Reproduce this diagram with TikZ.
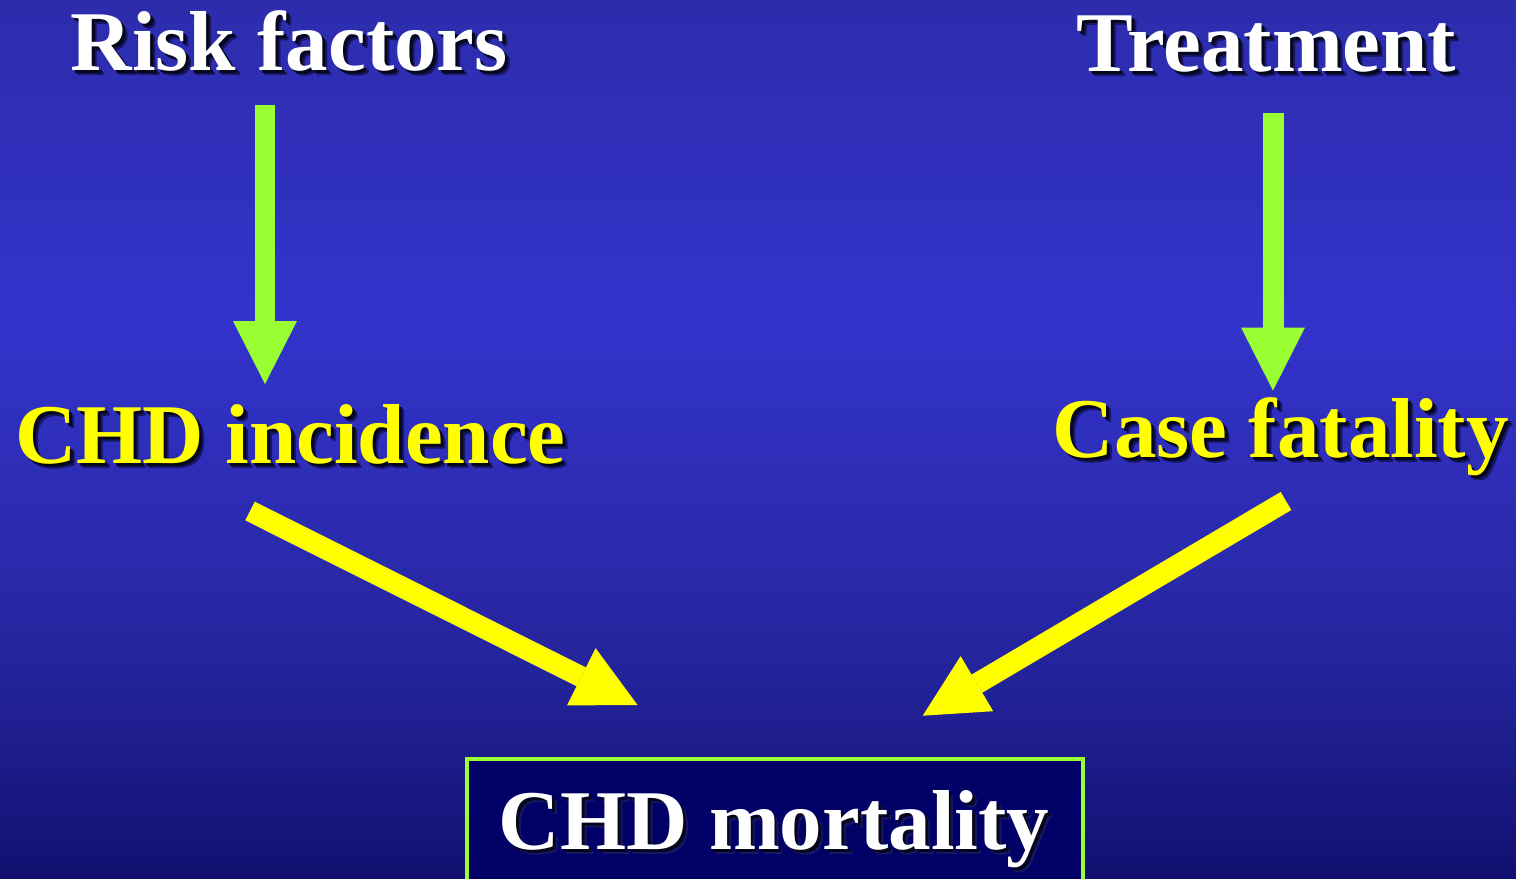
\documentclass[tikz,border=0pt]{standalone}
\usepackage{fontspec}
\setmainfont{Liberation Serif}
\usetikzlibrary{arrows.meta}
\definecolor{bgtop}{RGB}{44,44,172}
\definecolor{bgmid}{RGB}{51,51,204}
\definecolor{bglow}{RGB}{42,42,172}
\definecolor{bgdark}{RGB}{33,33,150}
\definecolor{bgbot}{RGB}{17,16,112}
\definecolor{arrowgreen}{RGB}{153,255,51}
\definecolor{arrowyellow}{RGB}{255,255,0}
\definecolor{boxnavy}{RGB}{0,0,102}
\definecolor{shadownear}{RGB}{6,6,28}
\definecolor{shadowfar}{RGB}{22,22,100}
\pgfdeclareverticalshading{slidebg}{100bp}{color(0bp)=(bgbot); color(25bp)=(bgbot); color(35.2bp)=(bgdark); color(43.1bp)=(bglow); color(56.8bp)=(bgmid); color(75bp)=(bgtop); color(100bp)=(bgtop)}
\newcommand\shadowed[2]{%
  \rlap{\hspace*{1mm}\raisebox{-1mm}{\color{shadowfar}#2}}%
  \rlap{\hspace*{0.6mm}\raisebox{-0.6mm}{\color{shadownear}#2}}%
  {\color{#1}#2}}
\begin{document}
\begin{tikzpicture}[x=0.02cm,y=-0.02cm,
  lbl/.style={font=\fontsize{48.4}{58}\selectfont\bfseries, inner sep=0pt, anchor=base west},
  fatarrow/.style={line width=0.42cm, -{Triangle[length=1.26cm,width=1.28cm,line width=0pt]}},
  greenarrow/.style={fatarrow, draw=arrowgreen, fill=arrowgreen},
  yellowarrow/.style={fatarrow, draw=arrowyellow, fill=arrowyellow},
  mortbox/.style={draw=arrowgreen, fill=boxnavy, line width=0.08cm, inner sep=0pt, anchor=north west, minimum width=12.32cm, minimum height=2.9cm}]
\useasboundingbox (0,0) rectangle (1516,879);
\clip (0,0) rectangle (1516,879);
\shade[shading=slidebg] (0,0) rectangle (1516,879);
% box
\node[mortbox] (box) at (465,757) {};
% labels
\node[lbl] (risk) at (70.5,71) {\shadowed{white}{Risk factors}};
\node[lbl] (treat) at (1076.5,71.5) {\shadowed{white}{Treatment}};
\node[lbl] (inc) at (15,463) {\shadowed{arrowyellow}{CHD incidence}};
\node[lbl] (fat) at (1052.5,457) {\shadowed{arrowyellow}{Case fatality}};
\node[lbl] (mort) at (498.5,849) {\shadowed{white}{CHD mortality}};
% arrow ends
\coordinate (g1a) at (265,105);
\coordinate (g1b) at (265,384);
\coordinate (g2a) at (1273,112.5);
\coordinate (g2b) at (1273,390.5);
\coordinate (y1a) at (250,511);
\coordinate (y1b) at (637.6,705);
\coordinate (y2a) at (1286,501);
\coordinate (y2b) at (922.7,715.7);
\draw[greenarrow] (g1a) -- (g1b);
\draw[greenarrow] (g2a) -- (g2b);
\draw[yellowarrow] (y1a) -- (y1b);
\draw[yellowarrow] (y2a) -- (y2b);
\end{tikzpicture}
\end{document}
